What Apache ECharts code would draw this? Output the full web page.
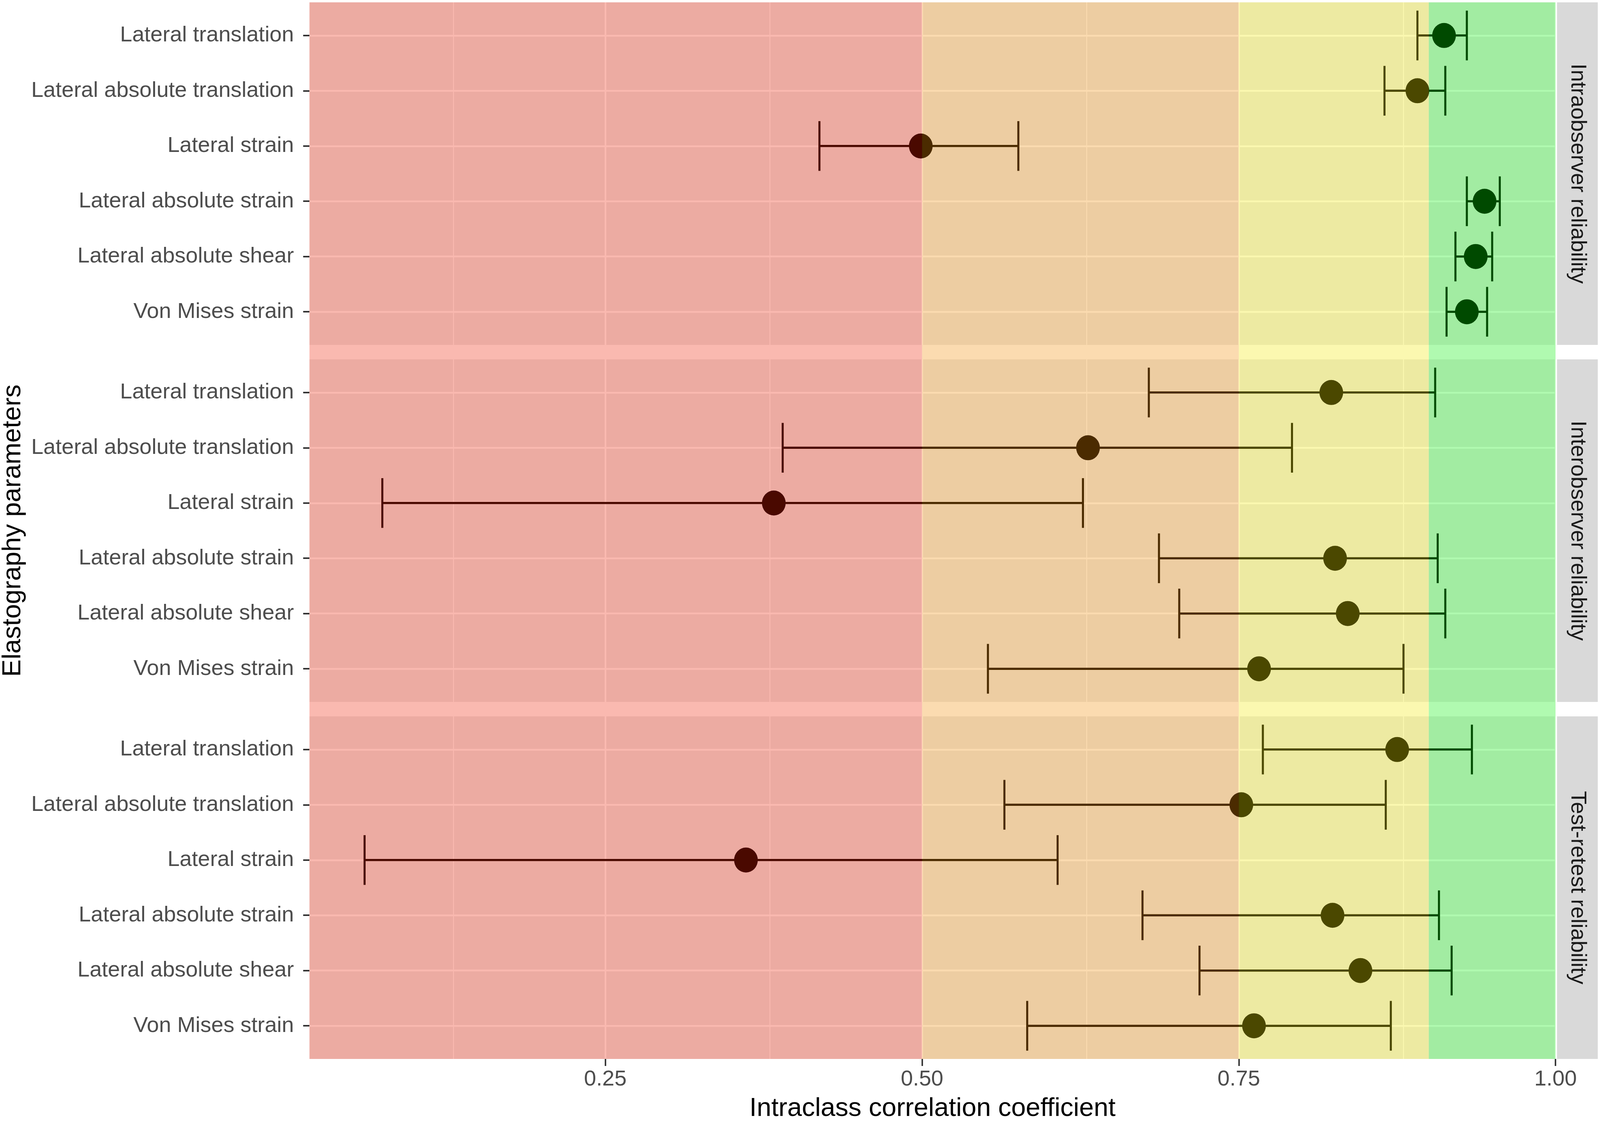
<!DOCTYPE html>
<html>
<head>
<meta charset="utf-8">
<script src="https://cdn.jsdelivr.net/npm/echarts@6/dist/echarts.min.js"></script>
<style>
html, body { margin: 0; padding: 0; background: #fff; overflow: hidden; }
#chart { width: 100vw; height: 100vh; }
</style>
</head>
<body>
<div id="chart"></div>
<script>
// ---------- data ----------
const categories = ['Lateral translation', 'Lateral absolute translation', 'Lateral strain',
  'Lateral absolute strain', 'Lateral absolute shear', 'Von Mises strain'];
const facets = ['Intraobserver reliability', 'Interobserver reliability', 'Test-retest reliability'];

const intraICC   = [0.912, 0.891, 0.499, 0.944, 0.937, 0.930];
const intraLower = [0.891, 0.865, 0.419, 0.930, 0.921, 0.914];
const intraUpper = [0.930, 0.913, 0.576, 0.956, 0.950, 0.946];

const interICC   = [0.823, 0.631, 0.383, 0.826, 0.836, 0.766];
const interLower = [0.679, 0.390, 0.074, 0.687, 0.703, 0.552];
const interUpper = [0.905, 0.792, 0.627, 0.907, 0.913, 0.880];

const retestICC   = [0.875, 0.752, 0.361, 0.824, 0.846, 0.762];
const retestLower = [0.769, 0.565, 0.060, 0.674, 0.719, 0.583];
const retestUpper = [0.934, 0.866, 0.607, 0.908, 0.918, 0.870];

const xTicks = [0.25, 0.50, 0.75, 1.00];
const xMinorBreaks = [0.125, 0.375, 0.625, 0.875];
const bandStart = [0.00, 0.50, 0.75, 0.90];
const bandEnd   = [0.50, 0.75, 0.90, 1.00];
const bandColors = ['#EE1C00', '#F28A00', '#F2E800', '#00EE00'];

const xTitle = 'Intraclass correlation coefficient';
const yTitle = 'Elastography parameters';

// ---------- layout (reference pixels, scaled to the actual canvas) ----------
const chartDom = document.getElementById('chart');
const chart = echarts.init(chartDom, null, { renderer: 'canvas' });
const CW = chart.getWidth(), CH = chart.getHeight();
const sx = CW / 4317, sy = CH / 2875, sf = sy;
const X = v => v * sx, Y = v => v * sy, F = v => v * sf;

const FONT = '"Liberation Sans", Arial, Helvetica, sans-serif';
const L = 835, W = 3362, PH = 877;
const tops = [6, 920, 1834];
const XMIN = 0.0165, XMAX = 1.0;
const rows = categories.map((c, i) => i + 1);

const panels = [
  { icc: intraICC, lo: intraLower, hi: intraUpper },
  { icc: interICC, lo: interLower, hi: interUpper },
  { icc: retestICC, lo: retestLower, hi: retestUpper }
];

const grids = tops.map(t => ({
  left: X(L), width: X(W), top: Y(t), height: Y(PH), show: true,
  backgroundColor: '#EBEBEB', borderWidth: 0, containLabel: false
}));
grids.push({ left: X(L), width: X(W), top: Y(tops[0]), height: Y(tops[2] + PH - tops[0]), show: false });

const xAxes = [];
const yAxes = [];
for (let i = 0; i < 3; i++) {
  const bottom = i === 2;
  xAxes.push({
    type: 'value', gridIndex: i, min: XMIN, max: XMAX,
    axisLine: { show: false },
    splitLine: { show: false },
    axisTick: { show: bottom, customValues: xTicks, length: Y(18), lineStyle: { color: '#333333', width: X(4) } },
    axisLabel: {
      show: bottom, customValues: xTicks, margin: Y(25),
      formatter: v => Number(v).toFixed(2),
      fontSize: F(56), color: '#4D4D4D', fontFamily: FONT
    }
  });
  yAxes.push({
    type: 'value', gridIndex: i, min: 0.4, max: 6.6, inverse: true,
    axisLine: { show: false },
    splitLine: { show: false },
    axisTick: { show: true, customValues: rows, length: X(17), lineStyle: { color: '#333333', width: Y(4) } },
    axisLabel: {
      show: true, customValues: rows, margin: X(42),
      formatter: v => categories[Math.round(v) - 1],
      fontSize: F(56), color: '#4D4D4D', fontFamily: FONT
    }
  });
}
xAxes.push({ type: 'value', gridIndex: 3, min: XMIN, max: XMAX, show: false });
yAxes.push({ type: 'value', gridIndex: 3, min: 0, max: 1, show: false });

const series = [];
panels.forEach((p, i) => {
  const gridLines = []
    .concat(xTicks.map(v => ({ xAxis: v, lineStyle: { width: X(4.5) } })))
    .concat(xMinorBreaks.map(v => ({ xAxis: v, lineStyle: { width: X(2.5) } })))
    .concat(rows.map(r => ({ yAxis: r, lineStyle: { width: Y(4.5) } })));
  series.push({
    type: 'custom', xAxisIndex: i, yAxisIndex: i, z: 3,
    data: categories.map((c, k) => [p.lo[k], p.hi[k], rows[k]]),
    encode: { x: [0, 1], y: 2 },
    renderItem: (params, api) => {
      const a = api.coord([api.value(0), api.value(2)]);
      const b = api.coord([api.value(1), api.value(2)]);
      const h = api.size([0, 0.9])[1] / 2;
      const hs = { stroke: '#000000', lineWidth: Y(5.5), fill: null };
      const vs = { stroke: '#000000', lineWidth: X(5.5), fill: null };
      return {
        type: 'group', children: [
          { type: 'line', shape: { x1: a[0], y1: a[1], x2: b[0], y2: b[1] }, style: hs },
          { type: 'line', shape: { x1: a[0], y1: a[1] - h, x2: a[0], y2: a[1] + h }, style: vs },
          { type: 'line', shape: { x1: b[0], y1: b[1] - h, x2: b[0], y2: b[1] + h }, style: vs }
        ]
      };
    },
    silent: true
  });
  series.push({
    type: 'scatter', xAxisIndex: i, yAxisIndex: i, z: 4,
    symbol: 'circle', symbolSize: [X(64), Y(64)],
    itemStyle: { color: '#000000', opacity: 1 },
    data: categories.map((c, k) => [p.icc[k], rows[k]]),
    silent: true,
    markLine: {
      silent: true, symbol: ['none', 'none'], z: 1, animation: false,
      label: { show: false },
      lineStyle: { color: '#FFFFFF', type: 'solid', width: 4.5 },
      emphasis: { disabled: true },
      data: gridLines
    }
  });
});

series.push({
  type: 'custom', xAxisIndex: 3, yAxisIndex: 3, z: 10, silent: true,
  data: bandStart.map((s, k) => [s, bandEnd[k]]),
  encode: { x: [0, 1] },
  renderItem: (params, api) => {
    const cs = params.coordSys;
    let x0 = api.coord([api.value(0), 0])[0];
    let x1 = api.coord([api.value(1), 0])[0];
    x0 = Math.max(x0, cs.x);
    x1 = Math.min(x1, cs.x + cs.width);
    return {
      type: 'rect',
      shape: { x: x0, y: cs.y, width: x1 - x0, height: cs.height },
      style: { fill: bandColors[params.dataIndex], opacity: 0.31 }
    };
  }
});

const graphics = [];
tops.forEach((t, i) => {
  graphics.push({
    type: 'rect', shape: { x: X(4201), y: Y(t), width: X(110), height: Y(PH) },
    style: { fill: '#D9D9D9' }, silent: true
  });
  graphics.push({
    type: 'text', x: X(4256), y: Y(t + PH / 2), rotation: -Math.PI / 2, silent: true,
    style: { text: facets[i], fontSize: F(56), fontFamily: FONT, fill: '#1A1A1A', align: 'center', verticalAlign: 'middle' }
  });
});
graphics.push({
  type: 'text', x: X(L + W / 2), y: Y(2839), silent: true,
  style: { text: xTitle, fontSize: F(67), fontFamily: FONT, fill: '#000000', align: 'center', verticalAlign: 'middle' }
});
graphics.push({
  type: 'text', x: X(35), y: Y(tops[0] + (tops[2] + PH - tops[0]) / 2), rotation: Math.PI / 2, silent: true,
  style: { text: yTitle, fontSize: F(67), fontFamily: FONT, fill: '#000000', align: 'center', verticalAlign: 'middle' }
});

chart.setOption({
  animation: false,
  backgroundColor: '#FFFFFF',
  grid: grids,
  xAxis: xAxes,
  yAxis: yAxes,
  series: series,
  graphic: graphics
});
</script>
</body>
</html>
